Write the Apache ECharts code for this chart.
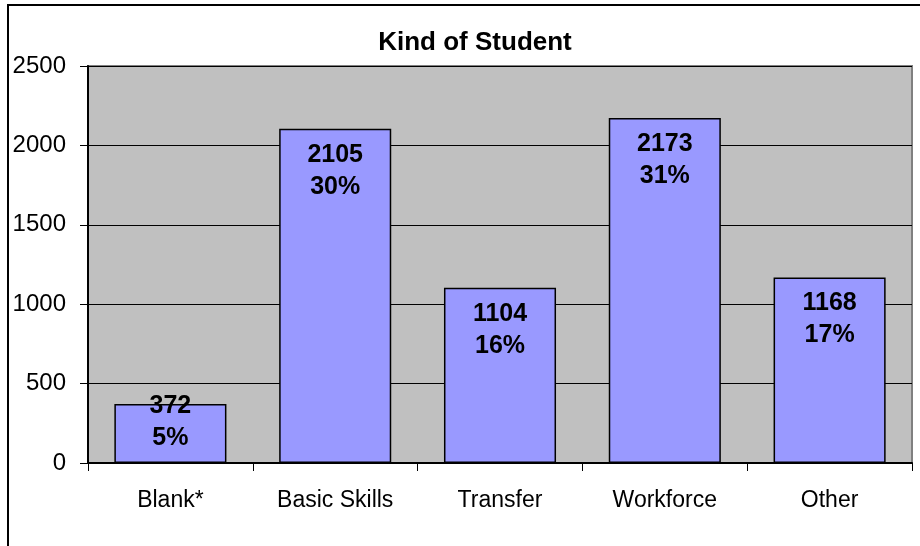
<!DOCTYPE html>
<html>
<head>
<meta charset="utf-8">
<script src="https://cdn.jsdelivr.net/npm/echarts@6/dist/echarts.min.js"></script>
<style>
  html, body { margin: 0; padding: 0; background: #fff; }
  #main { width: 920px; height: 546px; }
</style>
</head>
<body>
<div id="main"></div>
<script>
// values
const categories = ["Blank*", "Basic Skills", "Transfer", "Workforce", "Other"];
const counts = [372, 2105, 1104, 2173, 1168];
const percents = [5, 30, 16, 31, 17];
const yTicks = [0, 500, 1000, 1500, 2000, 2500];

const chart = echarts.init(document.getElementById("main"));

const seriesData = counts.map((v, i) => {
  const item = { value: v };
  // small bar: label sits higher, over the top edge
  if (v < 500) item.label = { offset: [0, -24] };
  return item;
});

chart.setOption({
  animation: false,
  textStyle: { fontFamily: "Liberation Sans, Arial, sans-serif" },
  title: {
    text: "Kind of Student",
    left: 470,
    textAlign: "center",
    top: 25,
    textStyle: { fontSize: 26, fontWeight: "bold", color: "#000" },
  },
  graphic: [
    {
      type: "rect",
      shape: { x: 8, y: 5, width: 1000, height: 1000 },
      style: { fill: "none", stroke: "#000", lineWidth: 2 },
      silent: true,
      z: 0,
    },
  ],
  grid: {
    left: 88,
    right: 8,
    top: 66,
    bottom: 83,
    show: true,
    backgroundColor: "#C0C0C0",
    borderColor: "#808080",
    borderWidth: 2,
  },
  xAxis: {
    type: "category",
    data: categories,
    axisLine: { lineStyle: { color: "#000", width: 2 } },
    axisTick: { show: true, length: 8, lineStyle: { color: "#000" } },
    axisLabel: { fontSize: 23, color: "#000", margin: 26 },
  },
  yAxis: {
    type: "value",
    min: yTicks[0],
    max: yTicks[yTicks.length - 1],
    interval: 500,
    axisLine: { show: true, lineStyle: { color: "#000", width: 2 } },
    axisTick: { show: true, length: 8, lineStyle: { color: "#000" } },
    axisLabel: { fontSize: 24, color: "#000", margin: 22, formatter: (v) => String(v) },
    splitLine: { lineStyle: { color: "#000", width: 1 } },
  },
  series: [
    {
      type: "bar",
      data: seriesData,
      barCategoryGap: "32%",
      itemStyle: { color: "#9999FF", borderColor: "#000", borderWidth: 1.5 },
      label: {
        show: true,
        position: "insideTop",
        distance: 10,
        fontSize: 25,
        fontWeight: "bold",
        color: "#000",
        lineHeight: 32,
        formatter: (p) => p.value + "\n" + percents[p.dataIndex] + "%",
      },
    },
  ],
});
</script>
</body>
</html>
